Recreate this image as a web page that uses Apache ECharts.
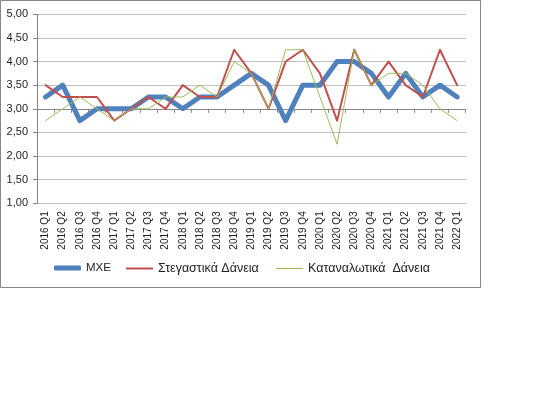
<!DOCTYPE html>
<html>
<head>
<meta charset="utf-8">
<script src="https://cdn.jsdelivr.net/npm/echarts@6/dist/echarts.min.js"></script>
<style>
html,body{margin:0;padding:0;background:#fff;}
#chart{width:550px;height:397px;}
</style>
</head>
<body>
<div id="chart"></div>
<script>
const categories = ['2016 Q1','2016 Q2','2016 Q3','2016 Q4','2017 Q1','2017 Q2','2017 Q3','2017 Q4',
  '2018 Q1','2018 Q2','2018 Q3','2018 Q4','2019 Q1','2019 Q2','2019 Q3','2019 Q4',
  '2020 Q1','2020 Q2','2020 Q3','2020 Q4','2021 Q1','2021 Q2','2021 Q3','2021 Q4','2022 Q1'];
const mxe =        [3.25,3.50,2.75,3.00,3.00,3.00,3.25,3.25,3.00,3.25,3.25,3.50,3.75,3.50,2.75,3.50,3.50,4.00,4.00,3.75,3.25,3.75,3.25,3.50,3.25];
const housing =    [3.50,3.25,3.25,3.25,2.75,3.00,3.25,3.00,3.50,3.25,3.25,4.25,3.75,3.00,4.00,4.25,3.75,2.75,4.25,3.50,4.00,3.50,3.25,4.25,3.50];
const consumer =   [2.75,3.00,3.25,3.00,2.75,3.00,3.00,3.25,3.25,3.50,3.25,4.00,3.75,3.00,4.25,4.25,3.25,2.25,4.25,3.50,3.75,3.75,3.50,3.00,2.75];
const seriesNames = ['ΜΧΕ','Στεγαστικά Δάνεια','Καταναλωτικά  Δάνεια'];
const yMin = 1, yMax = 5, yStep = 0.5, crossAt = 3;

const FONT = 'Liberation Sans';
const colors = ['#4f81bd','#c0504d','#9bbb59'];
const widths = [5, 2, 1];

const gridTop = 14.3, gridBottomPx = 203.3, gridLeft = 37, gridRightPx = 465.7;
const plotH = gridBottomPx - gridTop;
const crossOffset = -plotH * (crossAt - yMin) / (yMax - yMin);

const chart = echarts.init(document.getElementById('chart'), null, {renderer:'canvas'});

function legendFor(i, left, h, fs) {
  return {
    left: left, top: 262, padding: 0, itemWidth: 27, itemHeight: h, itemGap: 0,
    icon: i === 0 ? 'roundRect' : 'rect',
    data: [{name: seriesNames[i], itemStyle: {color: colors[i]}}],
    textStyle: {fontFamily: FONT, fontSize: fs, color: '#222'},
    selectedMode: false
  };
}

chart.setOption({
  animation: false,
  graphic: [{
    type: 'rect', shape: {x: 0.5, y: 0.5, width: 480, height: 287},
    style: {fill: 'none', stroke: '#868686', lineWidth: 1}, silent: true
  }],
  grid: {left: gridLeft, top: gridTop, right: 550 - gridRightPx, bottom: 397 - gridBottomPx},
  legend: [legendFor(0, 54, 5, 11.5), legendFor(1, 126, 2, 12.5), legendFor(2, 276, 1, 12.5)],
  xAxis: [{
    type: 'category', data: categories, boundaryGap: true, position: 'bottom',
    axisLine: {show: false}, axisTick: {show: false},
    axisLabel: {rotate: 90, interval: 0, margin: 8, fontFamily: FONT, fontSize: 10, color: '#222'},
    splitLine: {show: false}
  }, {
    type: 'category', data: categories, boundaryGap: true, position: 'bottom', offset: crossOffset,
    axisLine: {show: true, lineStyle: {color: '#868686', width: 1}},
    axisTick: {show: true, length: 4, interval: 0, lineStyle: {color: '#868686'}},
    axisLabel: {show: false}, splitLine: {show: false}
  }],
  yAxis: {
    type: 'value', min: yMin, max: yMax, interval: yStep,
    axisLine: {show: true, lineStyle: {color: '#868686'}},
    axisTick: {show: true, length: 4, lineStyle: {color: '#868686'}},
    axisLabel: {margin: 9, fontFamily: FONT, fontSize: 11, color: '#222',
      formatter: v => v.toFixed(2).replace('.', ',')},
    splitLine: {lineStyle: {color: '#bfbfbf', width: 1}}
  },
  series: [mxe, housing, consumer].map((d, i) => ({
    name: seriesNames[i], type: 'line', data: d, xAxisIndex: 0,
    symbol: 'none', smooth: false, z: 2 + i,
    lineStyle: {color: colors[i], width: widths[i], cap: 'round', join: 'round'},
    itemStyle: {color: colors[i]}
  }))
});
</script>
</body>
</html>
